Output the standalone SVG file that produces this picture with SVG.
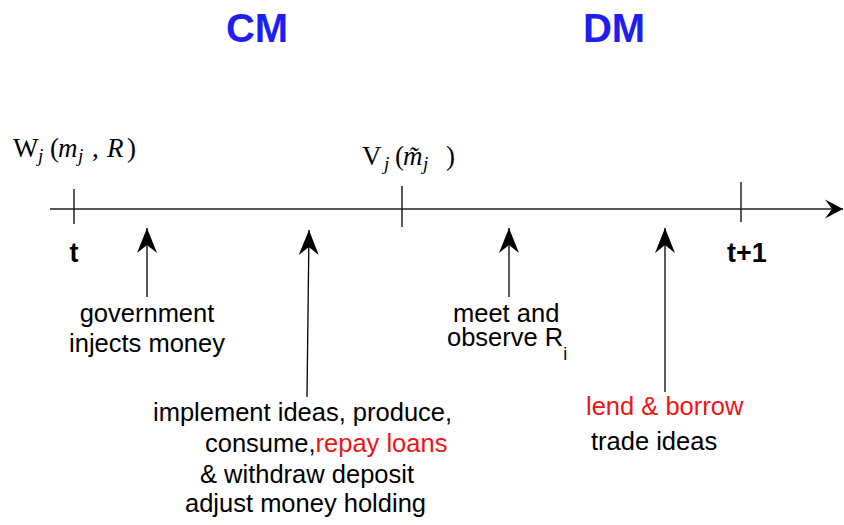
<svg xmlns="http://www.w3.org/2000/svg" width="844" height="525" viewBox="0 0 844 525">
<style>
.lbl{font-family:"Liberation Sans",Arial,sans-serif;font-size:25.5px;fill:#000}
.red{fill:#f01414}
.hd{font-family:"Liberation Sans",Arial,sans-serif;font-size:40px;font-weight:bold;fill:#1e1ef0}
.tk{font-family:"Liberation Sans",Arial,sans-serif;font-size:27px;font-weight:bold;fill:#000}
.math{font-family:"Liberation Serif","Times New Roman",serif;font-size:27px;fill:#000}
.it{font-style:italic}
.sub{font-size:19px;font-style:italic}
.axis{stroke:#222;stroke-width:1.5;fill:none}
.arr{stroke:#000;stroke-width:1.3;fill:none;marker-end:url(#ah)}
</style>
<defs>
<marker id="ah" markerUnits="userSpaceOnUse" orient="auto" refX="0" refY="0" markerWidth="30" markerHeight="24" viewBox="-26 -12 28 24" overflow="visible">
<path d="M0,0 L-25,-10 L-17,0 L-25,10 Z" fill="#000"/>
</marker>
<marker id="ax" markerUnits="userSpaceOnUse" orient="auto" refX="0" refY="0" markerWidth="24" markerHeight="24" viewBox="-20 -12 22 24" overflow="visible">
<path d="M0,0 L-18,-9.5 L-11,0 L-18,9.5 Z" fill="#000"/>
</marker>
</defs>
<g id="headers">
<text class="hd" x="257" y="42" text-anchor="middle">CM</text>
<text class="hd" x="614" y="42" text-anchor="middle">DM</text>
</g>
<g id="timeline">
<line class="axis" x1="50" y1="209" x2="843" y2="209" marker-end="url(#ax)"/>
<line class="axis" x1="74" y1="189" x2="74" y2="224"/>
<line class="axis" x1="402" y1="186" x2="402" y2="227"/>
<line class="axis" x1="741" y1="182" x2="741" y2="222"/>
</g>
<g id="W">
<text class="math" y="157"><tspan x="13">W</tspan><tspan class="sub" x="38" dy="5">j</tspan><tspan x="50" dy="-5">(</tspan><tspan class="it" x="58">m</tspan><tspan class="sub" x="78" dy="5">j</tspan><tspan x="92" dy="-5">,</tspan><tspan class="it" x="107">R</tspan><tspan x="127">)</tspan></text>
</g>
<g id="V">
<text class="math" y="165"><tspan x="362">V</tspan><tspan class="sub" x="384" dy="5">j</tspan><tspan x="395" dy="-5">(</tspan><tspan class="it" x="403">m&#x303;</tspan><tspan class="sub" x="423" dy="5">j</tspan><tspan x="446" dy="-5">)</tspan></text>
</g>
<g id="t"><text class="tk" x="74" y="262" text-anchor="middle">t</text></g>
<g id="t1"><text class="tk" x="747" y="262" text-anchor="middle">t+1</text></g>
<g id="connectors">
<line class="arr" x1="147" y1="297" x2="147" y2="228"/>
<line class="arr" x1="307" y1="397" x2="309" y2="230"/>
<line class="arr" x1="509" y1="297" x2="509" y2="228"/>
<line class="arr" x1="665" y1="392" x2="665" y2="228"/>
</g>
<g id="gov">
<text class="lbl" x="147" y="322" text-anchor="middle">government</text>
<text class="lbl" x="147" y="352" text-anchor="middle">injects money</text>
</g>
<g id="cm-actions">
<text class="lbl" x="153" y="421">implement ideas, produce,</text>
<text class="lbl" x="205" y="452">consume,<tspan class="red">repay loans</tspan></text>
<text class="lbl" x="200" y="483">&amp; withdraw deposit</text>
<text class="lbl" x="185" y="512">adjust money holding</text>
</g>
<g id="meet">
<text class="lbl" x="453" y="322">meet and</text>
<text class="lbl" x="447" y="346">observe R<tspan font-size="18" dy="14">i</tspan></text>
</g>
<g id="dm-actions">
<text class="lbl red" x="586" y="415">lend &amp; borrow</text>
<text class="lbl" x="591" y="450">trade ideas</text>
</g>
</svg>
